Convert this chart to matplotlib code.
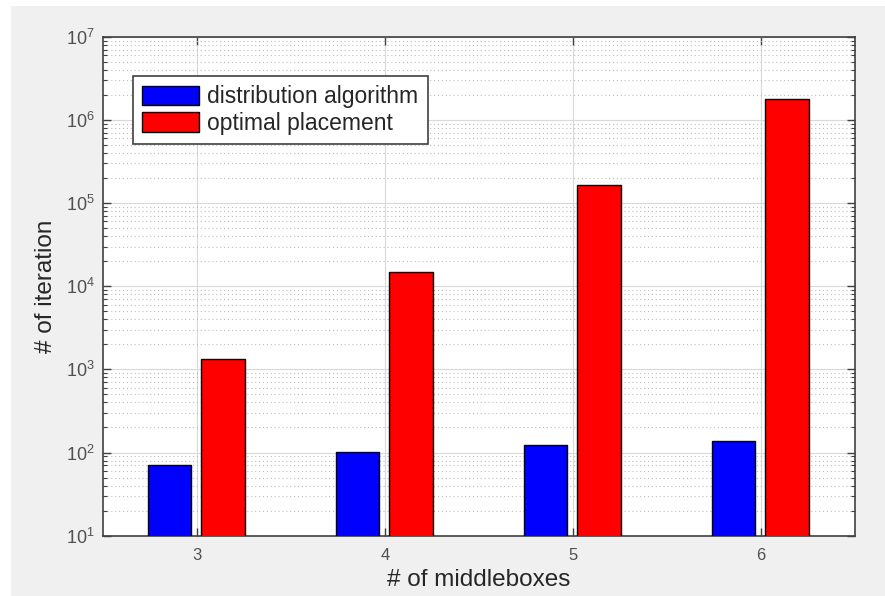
import matplotlib.pyplot as plt
import numpy as np
from matplotlib.patches import Rectangle
from matplotlib.ticker import LogLocator, NullFormatter

# number of middleboxes vs. iteration count
middleboxes = [3, 4, 5, 6]
distribution_iters = [71, 101, 124, 136]
optimal_iters = [1330, 14800, 165000, 1770000]
series_labels = ["distribution algorithm", "optimal placement"]

plt.rcParams['font.family'] = ['Liberation Sans', 'DejaVu Sans']

fig = plt.figure(figsize=(8.85, 5.96), dpi=100)
fig.patch.set_facecolor('white')
# grey figure panel, like a MATLAB window
fig.add_artist(Rectangle((11 / 885, 0), 1, 1 - 6 / 596, transform=fig.transFigure,
                         facecolor='#f0f0f0', edgecolor='none', zorder=-10))

ax = fig.add_axes([0.116, 0.1012, 0.85, 0.8372])
ax.set_facecolor('white')

x = np.array(middleboxes)
w = 0.232
ax.bar(x - 0.145, distribution_iters, width=w, color='#0000ff', edgecolor='black',
       linewidth=1.0, label=series_labels[0], zorder=3)
ax.bar(x + 0.14, optimal_iters, width=w, color='#ff0000', edgecolor='black',
       linewidth=1.0, label=series_labels[1], zorder=3)

ax.set_yscale('log')
ax.set_ylim(10, 1e7)
ax.set_xlim(2.5, 6.5)
ax.set_xticks(middleboxes)
ax.yaxis.set_major_locator(LogLocator(base=10, numticks=10))
ax.yaxis.set_minor_locator(LogLocator(base=10, subs=np.arange(2, 10), numticks=100))
ax.yaxis.set_minor_formatter(NullFormatter())

ax.grid(True, which='major', color='#d9d9d9', linewidth=0.8, linestyle='-', zorder=0)
ax.grid(True, which='minor', axis='y', color='#bdbdbd', linewidth=0.8,
        linestyle=(0, (1, 2.5)), zorder=0)
ax.set_axisbelow(True)

ax.tick_params(which='both', direction='in', top=True, right=True,
               colors='#404040', labelcolor='#505050', labelsize=12)
ax.tick_params(which='major', length=6, width=1)
ax.tick_params(which='minor', length=3, width=0.8)
ax.tick_params(axis='x', pad=9)
ax.tick_params(axis='y', pad=6, labelsize=13)
for s in ax.spines.values():
    s.set_color('#404040')
    s.set_linewidth(1.2)

ax.set_xlabel("# of middleboxes", fontsize=17.5, color='#262626', labelpad=4)
ax.set_ylabel("# of iteration", fontsize=17.5, color='#262626', labelpad=6)

leg = ax.legend(loc='upper left', bbox_to_anchor=(0.04, 0.921), borderaxespad=0,
                fontsize=16.5, fancybox=False, framealpha=1, edgecolor='#404040',
                handlelength=2.5, handleheight=0.95, handletextpad=0.35,
                labelspacing=0.15, borderpad=0.4)
leg.get_frame().set_linewidth(1.2)
for t in leg.get_texts():
    t.set_color('#262626')

fig.savefig("out.png", dpi=100, facecolor=fig.get_facecolor())
